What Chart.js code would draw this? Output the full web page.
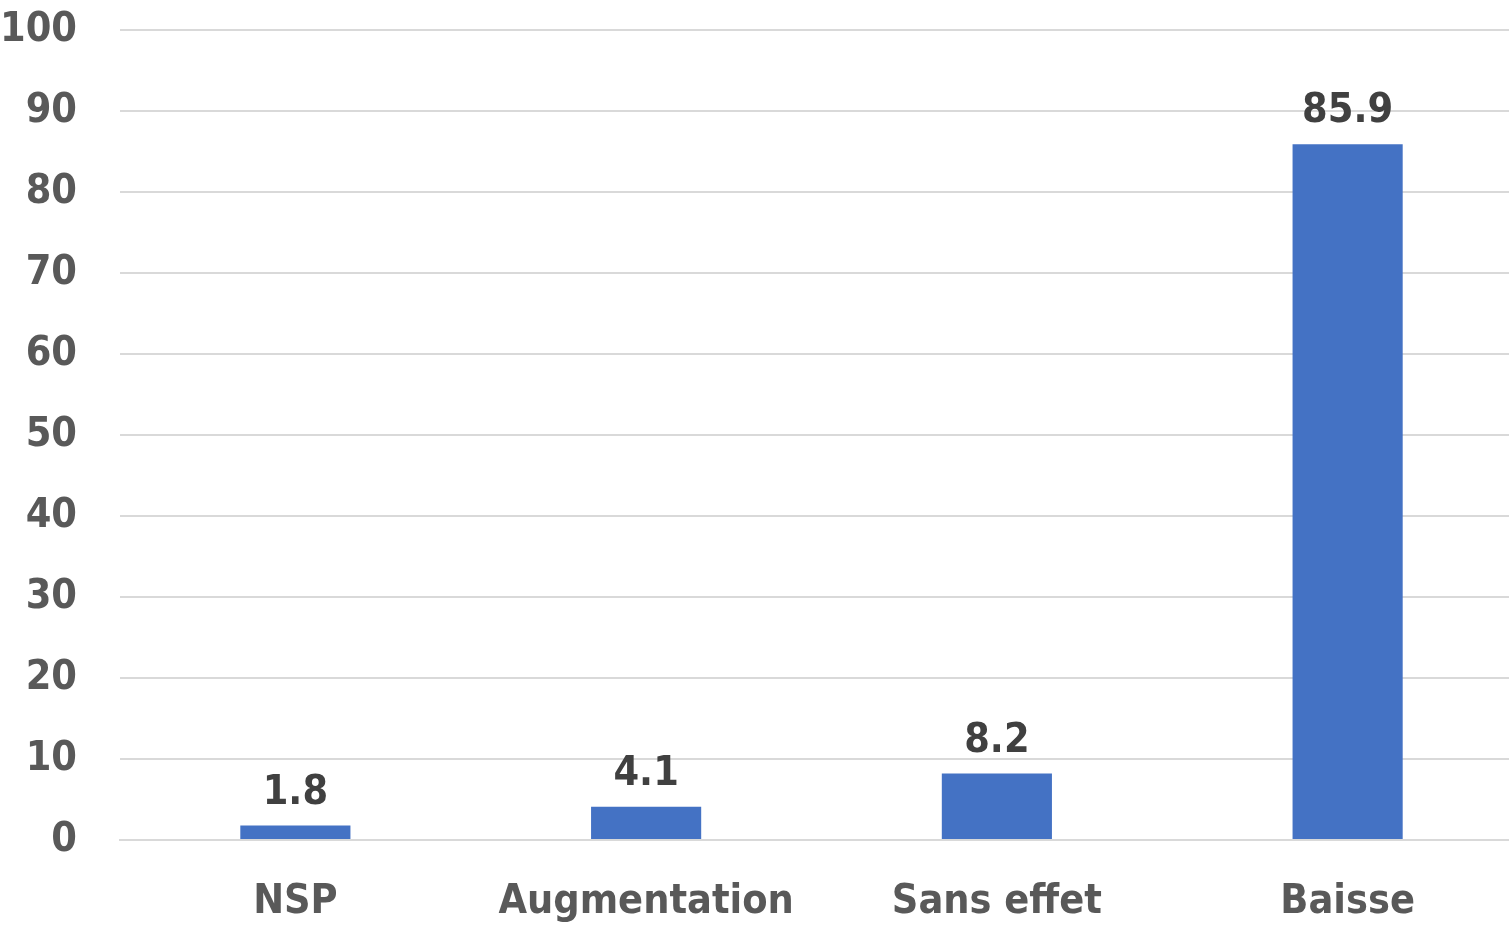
<!DOCTYPE html>
<html>
<head>
<meta charset="utf-8">
<script src="https://cdn.jsdelivr.net/npm/chart.js@4.4.1/dist/chart.umd.min.js"></script>
<style>
  html, body { margin: 0; padding: 0; background: #fff; overflow: hidden; }
  #wrap { width: 1523px; height: 926px; }
</style>
</head>
<body>
<div id="wrap"><canvas id="chart"></canvas></div>
<script>
const categories = ['NSP', 'Augmentation', 'Sans effet', 'Baisse'];
const values = [1.8, 4.1, 8.2, 85.9];
const yTicks = [0, 10, 20, 30, 40, 50, 60, 70, 80, 90, 100];

const FONT = "'Liberation Sans Narrow', 'Arial Narrow', 'DejaVu Sans Condensed', sans-serif";

// value labels above the bars
const barLabels = {
    id: 'barLabels',
    afterDatasetsDraw(chart) {
        const ctx = chart.ctx;
        const meta = chart.getDatasetMeta(0);
        ctx.save();
        ctx.font = 'bold 41px ' + FONT;
        ctx.fillStyle = '#404040';
        ctx.textAlign = 'center';
        ctx.textBaseline = 'bottom';
        meta.data.forEach((bar, i) => {
            ctx.fillText(values[i].toFixed(1), bar.x, bar.y - 12);
        });
        ctx.restore();
    }
};

new Chart(document.getElementById('chart'), {
    type: 'bar',
    data: {
        labels: categories,
        datasets: [{
            data: values,
            backgroundColor: '#4472C4',
            categoryPercentage: 1,
            barPercentage: 0.314
        }]
    },
    options: {
        responsive: true,
        maintainAspectRatio: false,
        animation: false,
        layout: { padding: { top: 30, right: 0, left: 0, bottom: 0 } },
        plugins: { legend: { display: false }, tooltip: { enabled: false } },
        scales: {
            x: {
                grid: { display: false, drawTicks: false },
                border: { color: '#d9d9d9', width: 2 },
                ticks: {
                    color: '#595959',
                    padding: 38,
                    font: { family: FONT, size: 41, weight: 'bold' }
                },
                afterFit(scale) { scale.height = 86; }
            },
            y: {
                min: 0,
                max: 100,
                afterBuildTicks(scale) { scale.ticks = yTicks.map(v => ({ value: v })); },
                grid: { color: '#d9d9d9', lineWidth: 2, tickLength: 43, tickColor: 'rgba(0,0,0,0)' },
                border: { display: false },
                ticks: {
                    color: '#595959',
                    padding: 0,
                    font: { family: FONT, size: 41, weight: 'bold' }
                },
                afterFit(scale) { scale.width = 120; }
            }
        }
    },
    plugins: [barLabels]
});
</script>
</body>
</html>
